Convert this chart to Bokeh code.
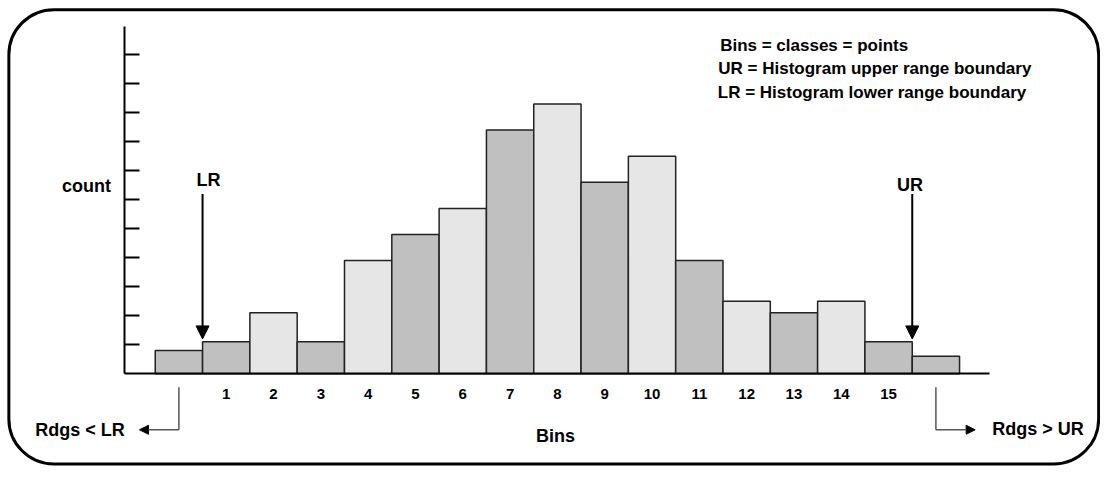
from bokeh.plotting import figure
from bokeh.models import (Range1d, LinearAxis, FixedTicker, BoxAnnotation, Arrow,
                          NormalHead, ColumnDataSource)
from bokeh.core.properties import value
from bokeh.embed import file_html
from bokeh.resources import INLINE

# ---- data ----
bins = list(range(17))            # 0 = readings < LR, 16 = readings > UR
counts = [8, 11, 21, 11, 39, 48, 57, 84, 93, 66, 75, 39, 25, 21, 25, 11, 6]
tick_bins = list(range(1, 16))
y_ticks = [10, 20, 30, 40, 50, 60, 70, 80, 90, 100, 110]
legend_lines = ["Bins = classes = points",
                "UR = Histogram upper range boundary",
                "LR = Histogram lower range boundary"]

FONT_NAME = "Liberation Sans"
FONT = value(FONT_NAME)
DARK = "#c0c0c0"
LIGHT = "#e6e6e6"
colors = [LIGHT if (b % 2 == 0 and 0 < b < 16) else DARK for b in bins]

p = figure(width=1100, height=467, output_backend="svg", toolbar_location=None,
           x_range=Range1d(-3.7708, 19.479), y_range=Range1d(-32.333, 128.667),
           x_axis_type=None, y_axis_type=None, min_border=0,
           min_border_left=0, min_border_right=0, min_border_top=0, min_border_bottom=0)
p.outline_line_color = None
p.xgrid.visible = False
p.ygrid.visible = False
p.background_fill_color = "white"
p.border_fill_color = "white"

src = ColumnDataSource(dict(x=bins, top=counts, color=colors))
p.vbar(x="x", top="top", bottom=0, width=1, source=src, fill_color="color",
       line_color="#222222", line_width=1.5)

# y axis
yax = LinearAxis(fixed_location=-1.146, bounds=(0, 119.67),
                 ticker=FixedTicker(ticks=y_ticks),
                 major_tick_in=15, major_tick_out=0, minor_tick_line_color=None,
                 major_label_text_font_size="0px", axis_line_width=2,
                 major_tick_line_width=2)
yax.major_label_text_color = None
p.add_layout(yax, "left")

# x axis
xax = LinearAxis(fixed_location=0, bounds=(-1.146, 17.125),
                 ticker=FixedTicker(ticks=tick_bins),
                 major_tick_in=0, major_tick_out=0, minor_tick_line_color=None,
                 axis_line_width=2, major_label_standoff=15,
                 major_label_text_font=FONT_NAME, major_label_text_font_style="bold",
                 major_label_text_font_size="15px", major_label_text_color="black")
p.add_layout(xax, "below")

# border
p.add_layout(BoxAnnotation(left=-3.594, right=19.44, top=125.5, bottom=-31.1,
                           fill_color=None, fill_alpha=0, line_color="black",
                           line_alpha=1, line_width=3, border_radius=45,
                           level="overlay"))

# LR / UR arrows
for xa in (0.5, 15.5):
    p.add_layout(Arrow(end=NormalHead(size=13, fill_color="black", line_color="black"),
                       x_start=xa, y_start=62, x_end=xa, y_end=12,
                       line_width=2, line_color="black"))

# lower L arrows
p.segment(x0=[0, 16], y0=[-4.67, -4.67], x1=[0, 16], y1=[-19.33, -19.33],
          line_color="#555555", line_width=1.5)
p.add_layout(Arrow(end=NormalHead(size=9, fill_color="black", line_color="black"),
                   x_start=0, y_start=-19.33, x_end=-0.833, y_end=-19.33,
                   line_width=1.5, line_color="#555555"))
p.add_layout(Arrow(end=NormalHead(size=9, fill_color="black", line_color="black"),
                   x_start=16, y_start=-19.33, x_end=16.83, y_end=-19.33,
                   line_width=1.5, line_color="#555555"))

common = dict(text_font=FONT, text_font_style="bold", text_color="black",
              text_baseline="middle")
# texts
p.text(x=[-1.146], y=[-19.33], text=["Rdgs < LR"], text_align="right",
       text_font_size="18px", **common)
p.text(x=[17.19], y=[-19.0], text=["Rdgs > UR"], text_align="left",
       text_font_size="18px", **common)
p.text(x=[7.96], y=[-21.33], text=["Bins"], text_align="center",
       text_font_size="18px", **common)
p.text(x=[-1.4375], y=[64.67], text=["count"], text_align="right",
       text_font_size="18px", **common)
p.text(x=[0.625, 15.45], y=[66.67, 65.1], text=["LR", "UR"], text_align="center",
       text_font_size="18px", **common)
p.text(x=[11.44, 11.40, 11.39], y=[113.3, 105.3, 97.0], text=legend_lines,
       text_align="left", text_font_size="17px", **common)

open("out.html", "w").write(file_html(p, INLINE))
